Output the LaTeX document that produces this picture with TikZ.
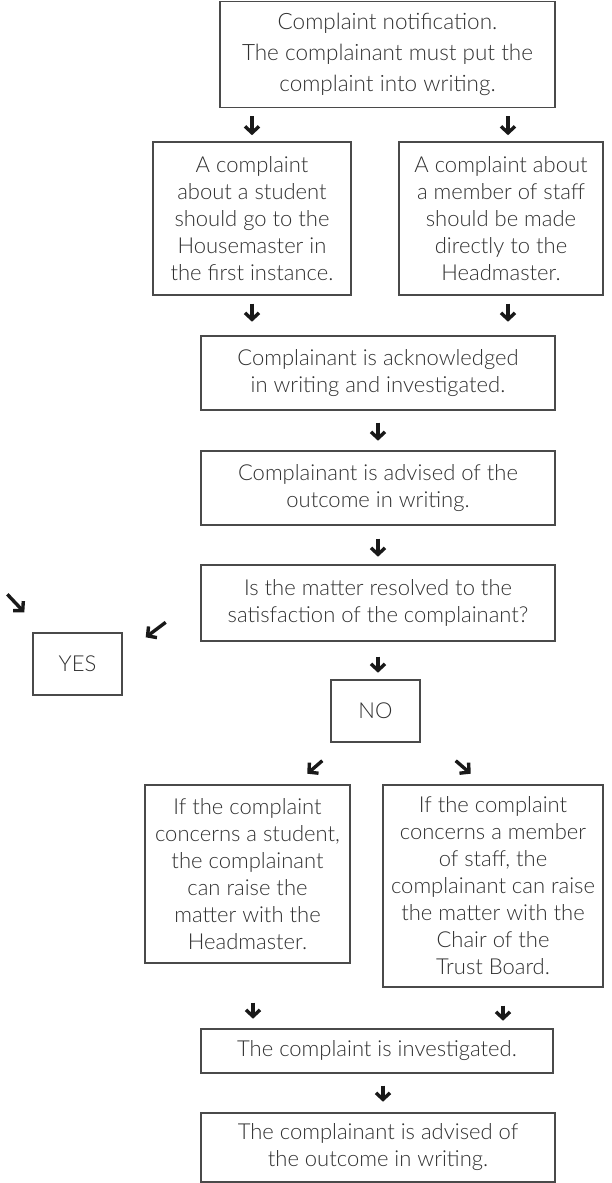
\documentclass[tikz,border=0pt]{standalone}
\usepackage{fontspec}
\IfFontExistsTF{Lato Light}{\setmainfont{Lato Light}}{\setmainfont{Lato}}
\usetikzlibrary{arrows.meta}

\definecolor{boxline}{HTML}{4A4A4A}
\definecolor{boxtext}{HTML}{303030}

\begin{document}
\begin{tikzpicture}[x=1pt,y=-1pt,
    stepbox/.style={draw=boxline, line width=1.4pt, text=boxtext, align=center,
        inner sep=0pt, font=\fontsize{22}{27}\selectfont},
    arr/.style={line width=3.4pt, black!90, -{Straight Barb[length=6.5pt,width=14pt]}}]
    \useasboundingbox (0,0) rectangle (611,1183);

    \node[stepbox, minimum width=335pt, minimum height=106pt,
        font=\fontsize{22.5}{31}\selectfont] (notify) at (387.5,54.5)
        {Complaint notification.\\The complainant must put the\\complaint into writing.};

    \node[stepbox, minimum width=198pt, minimum height=153pt] (student) at (252,218.5)
        {A complaint\\about a student\\should go to the\\Housemaster in\\the first instance.};
    \node[stepbox, minimum width=204pt, minimum height=153pt] (staff) at (501,218.5)
        {A complaint about\\a member of staff\\should be made\\directly to the\\Headmaster.};

    \node[stepbox, minimum width=354pt, minimum height=74pt] (ack) at (378,373)
        {Complainant is acknowledged\\in writing and investigated.};
    \node[stepbox, minimum width=354pt, minimum height=74pt] (outcome) at (378,488)
        {Complainant is advised of the\\outcome in writing.};
    \node[stepbox, minimum width=354pt, minimum height=76pt] (resolved) at (378,603)
        {Is the matter resolved to the\\satisfaction of the complainant?};

    \node[stepbox, minimum width=89pt, minimum height=62pt] (yes) at (77.5,664) {YES};
    \node[stepbox, minimum width=89pt, minimum height=62pt] (no) at (375.5,711) {NO};

    \node[stepbox, minimum width=205pt, minimum height=178pt] (headm) at (247.5,874)
        {If the complaint\\concerns a student,\\the complainant\\can raise the\\matter with the\\Headmaster.};
    \node[stepbox, minimum width=220pt, minimum height=202pt] (chair) at (493,886)
        {If the complaint\\concerns a member\\of staff, the\\complainant can raise\\the matter with the\\Chair of the\\Trust Board.};

    \node[stepbox, minimum width=352pt, minimum height=44pt] (invest) at (377,1051)
        {The complaint is investigated.};
    \node[stepbox, minimum width=354pt, minimum height=69pt] (final) at (378,1147.5)
        {The complainant is advised of\\the outcome in writing.};

    % arrows between the boxes
    \draw[arr] (notify.south -| student.north) ++(0,8) -- ++(0,19);
    \draw[arr] (notify.south -| 508,0) ++(0,8) -- ++(0,19);
    \draw[arr] (student.south) ++(0,8) -- ++(0,18);
    \draw[arr] (staff.south -| 508,0) ++(0,8) -- ++(0,18);
    \draw[arr] (ack.south) ++(0,12) -- ++(0,18);
    \draw[arr] (outcome.south) ++(0,13) -- ++(0,18);
    \draw[arr] (resolved.south) ++(0,15) -- ++(0,16);
    \draw[arr] (yes.north east) ++(43,-10) -- ++(-20,15);
    \draw[arr] (yes.north west) ++(-25,-38) -- ++(17,18);
    \draw[arr] (no.south west) ++(-8,18) -- ++(-15,13);
    \draw[arr] (no.south east) ++(35,18) -- ++(15,13);
    \draw[arr] (headm.south -| 253,0) ++(0,39) -- ++(0,16);
    \draw[arr] (chair.south -| 503,0) ++(0,18) -- ++(0,15);
    \draw[arr] (invest.south -| 383,0) ++(0,12) -- ++(0,16);
\end{tikzpicture}
\end{document}
